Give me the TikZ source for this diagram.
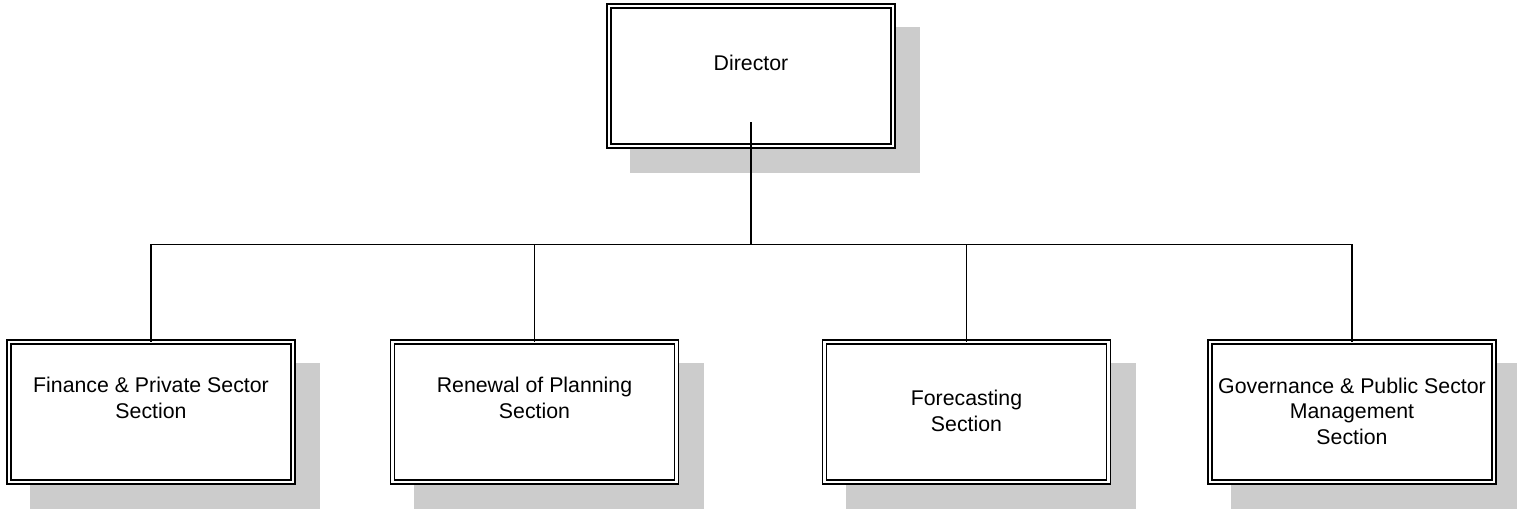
\documentclass[tikz,border=0pt]{standalone}
\usepackage{fontspec}
\setmainfont{Liberation Sans}
\begin{document}
\begin{tikzpicture}[x=1pt,y=1pt,
  box/.style={draw=black, double=white, double distance=2.4pt, line width=1.4pt,
    fill=white, minimum width=284pt, minimum height=140pt, inner sep=0pt},
  shade/.style={fill=black!20, draw=none},
  lbl/.style={font=\fontsize{21.3}{25.5}\selectfont, align=center, inner sep=0pt},
  conn/.style={line width=1.5pt, line cap=rect}]
\useasboundingbox (0,0) rectangle (1517,509);
% boxes
\foreach \n/\x/\y in {d/751/433, f/151/97, r/534.5/97, c/966.5/97, g/1352/97}{
  \coordinate (\n c) at (\x,\y);
  \fill[shade] ([xshift=21pt,yshift=-27pt]\n c) ++(-142pt,-70pt) rectangle ++(290pt,146pt);
}
\node[box] (d) at (dc) {};
\node[box] (f) at (fc) {};
\node[box] (r) at (rc) {};
\node[box] (c) at (cc) {};
\node[box] (g) at (gc) {};
% texts
\node[lbl] (dt) at ([yshift=13pt]d.center) {Director};
\node[lbl] (ft) at ([yshift=14pt]f.center) {Finance \& Private Sector\\Section};
\node[lbl] (rt) at ([yshift=14pt]r.center) {Renewal of Planning\\Section};
\node[lbl] (ct) at ([yshift=1pt]c.center) {Forecasting\\Section};
\node[lbl] (gt) at ([yshift=1pt]g.center) {Governance \& Public Sector\\Management\\Section};
% connectors
\coordinate (ds) at ([yshift=-47pt]d.center);
\coordinate (bus) at (751,264.5);
\draw[conn] (ds) -- (bus);
\draw[conn] (f.north) |- (bus) -| (g.north);
\draw[conn] (r.north) -- (r.north |- bus);
\draw[conn] (c.north) -- (c.north |- bus);
\end{tikzpicture}
\end{document}
